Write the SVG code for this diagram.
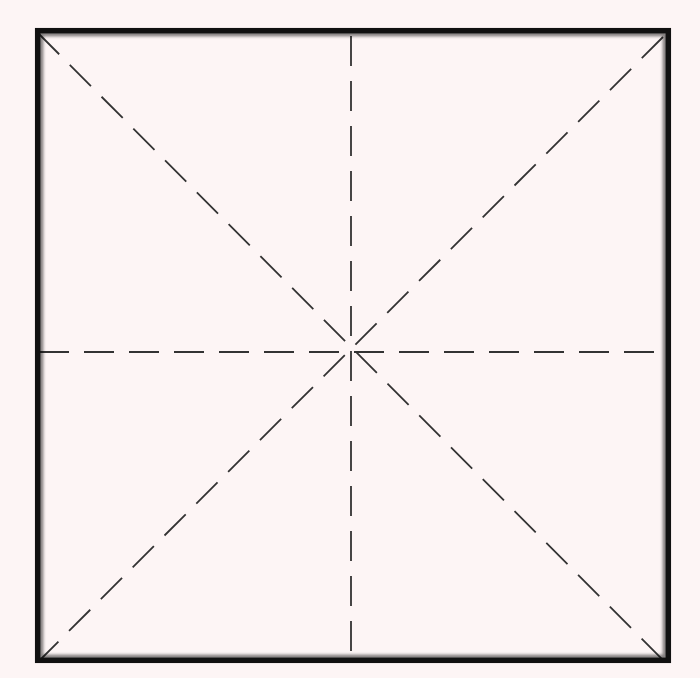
<svg xmlns="http://www.w3.org/2000/svg" width="700" height="678" viewBox="0 0 700 678">
  <defs>
    <filter id="soft" x="-5%" y="-5%" width="110%" height="110%">
      <feGaussianBlur stdDeviation="1.6"/>
    </filter>
  </defs>
  <style>
    .guide { stroke: #333333; stroke-width: 1.8; stroke-dasharray: 30 15; fill: none; }
    .frame { fill: none; stroke: #111111; stroke-width: 5.5; }
    .shade { fill: none; stroke: #000000; stroke-opacity: 0.5; stroke-width: 4.5; }
  </style>
  <rect x="0" y="0" width="700" height="678" fill="#fdf5f5"/>
  <g id="guides">
    <line class="guide" x1="39" y1="352" x2="664" y2="352"/>
    <line class="guide" x1="351" y1="36" x2="351" y2="658"/>
    <line class="guide" x1="38" y1="33" x2="663" y2="660"/>
    <line class="guide" x1="663" y1="37" x2="39" y2="661"/>
  </g>
  <g id="frame">
    <rect class="shade" x="41" y="34" width="624" height="623" filter="url(#soft)"/>
    <rect class="frame" x="37.7" y="30.7" width="630.6" height="629.6"/>
  </g>
</svg>
